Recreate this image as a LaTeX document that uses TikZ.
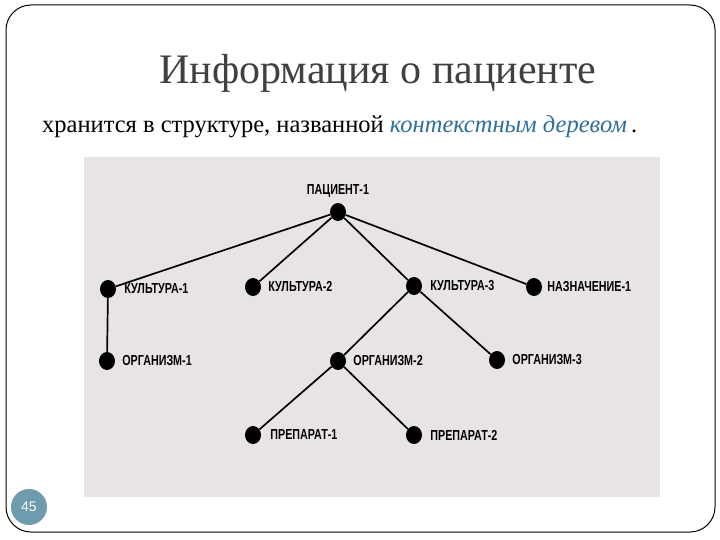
\documentclass[tikz,border=0pt]{standalone}
\usepackage{fontspec}
\setmainfont{Liberation Serif}
\newfontfamily\headfont{Liberation Serif}
\newfontfamily\tagfont[FakeStretch=0.74]{Liberation Sans}
\newfontfamily\numfont{Liberation Sans}
\usepackage{xcolor}
\definecolor{titlegray}{RGB}{64,64,64}
\definecolor{termblue}{RGB}{47,110,154}
\definecolor{panelgray}{RGB}{232,228,230}
\definecolor{numblue}{RGB}{110,155,174}
\usetikzlibrary{positioning,shapes.geometric}

\begin{document}
\begin{tikzpicture}[x=1pt,y=-1pt,
    dot/.style={ellipse,fill=black,inner sep=0pt,minimum width=16pt,minimum height=18pt},
    tag/.style={inner sep=0pt,font=\tagfont\bfseries\fontsize{14.5}{15}\selectfont},
    edge/.style={line width=1.7pt}]
            % Slide
            \useasboundingbox (0,0) rectangle (720,540);
            \draw[rounded corners=25pt,line width=1pt] (6,5) rectangle (715,532);
            % Headings
            \node[text=titlegray,font=\headfont\fontsize{42}{46}\selectfont] (title) at (378,73) {Информация о пациенте};
            \node[anchor=west,inner sep=0pt,font=\headfont\fontsize{24.5}{28}\selectfont] (lead) at (42,127)
                {хранится в структуре, названной \textcolor{termblue}{\itshape контекстным деревом}\,.};
            % Panel
            \fill[panelgray] (84,157) rectangle (660,497);
            % Tree nodes
            \node[dot] (pat) at (338,212) {};
            \node[dot] (cult1) at (108,289) {};
            \node[dot] (cult2) at (253,287) {};
            \node[dot] (cult3) at (414,286) {};
            \node[dot] (assign) at (534,287) {};
            \node[dot] (org1) at (107,361) {};
            \node[dot] (org2) at (338,361) {};
            \node[dot] (org3) at (497,360) {};
            \node[dot] (drug1) at (253,435) {};
            \node[dot] (drug2) at (414,435) {};
            % Edges
            \draw[edge] (pat) -- (cult1);
            \draw[edge] (pat) -- (cult2);
            \draw[edge] (pat) -- (cult3);
            \draw[edge] (pat) -- (assign);
            \draw[edge] (cult1) -- (org1);
            \draw[edge] (cult3) -- (org2);
            \draw[edge] (cult3) -- (org3);
            \draw[edge] (org2) -- (drug1);
            \draw[edge] (org2) -- (drug2);
            % Labels
            \node[tag,above=5pt of pat] (patlbl) {ПАЦИЕНТ-1};
            \node[tag,right=8pt of cult1] (cult1lbl) {КУЛЬТУРА-1};
            \node[tag,right=7pt of cult2] (cult2lbl) {КУЛЬТУРА-2};
            \node[tag,right=8pt of cult3] (cult3lbl) {КУЛЬТУРА-3};
            \node[tag,right=5pt of assign] (assignlbl) {НАЗНАЧЕНИЕ-1};
            \node[tag,right=7pt of org1] (org1lbl) {ОРГАНИЗМ-1};
            \node[tag,right=7pt of org2] (org2lbl) {ОРГАНИЗМ-2};
            \node[tag,right=7pt of org3] (org3lbl) {ОРГАНИЗМ-3};
            \node[tag,right=9pt of drug1] (drug1lbl) {ПРЕПАРАТ-1};
            \node[tag,right=8pt of drug2] (drug2lbl) {ПРЕПАРАТ-2};
            % Page number
            \node[circle,fill=numblue,minimum size=36pt,inner sep=0pt,text=white,font=\numfont\fontsize{14}{15}\selectfont] (page) at (29,507) {45};
        \end{tikzpicture}
\end{document}
